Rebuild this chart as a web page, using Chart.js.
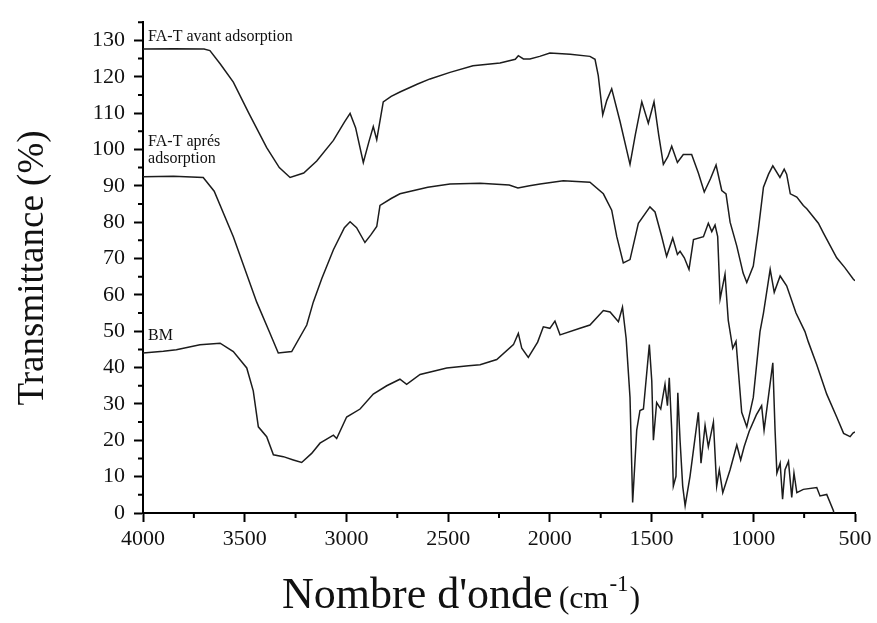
<!DOCTYPE html>
<html>
<head>
<meta charset="utf-8">
<script src="https://cdn.jsdelivr.net/npm/chart.js@4.4.0/dist/chart.umd.min.js"></script>
<style>
  html, body { margin: 0; padding: 0; background: #fff; }
  #irChart { display: block; }
</style>
</head>
<body>
<canvas id="irChart" width="877" height="623"></canvas>
<script>
// FTIR spectra - wavenumber (cm-1) vs transmittance (%)
const seriesNames = ['FA-T avant adsorption', 'FA-T aprés adsorption', 'BM'];

const wnAvant = [4000, 3850, 3700, 3671, 3620, 3556, 3480, 3392, 3330, 3277, 3210, 3146, 3064, 3010, 2982, 2955, 2917, 2890, 2868, 2851, 2819, 2780, 2737, 2650, 2589, 2491, 2378, 2245, 2170, 2155, 2130, 2098, 2050, 2000, 1900, 1803, 1778, 1762, 1740, 1720, 1696, 1655, 1606, 1580, 1548, 1516, 1488, 1465, 1442, 1420, 1401, 1373, 1344, 1303, 1270, 1241, 1210, 1183, 1155, 1134, 1114, 1081, 1050, 1032, 1000, 975, 950, 925, 904, 869, 848, 836, 818, 786, 754, 737, 680, 655, 590, 550, 508, 500];
const tAvant = [127.6, 127.7, 127.6, 127.2, 123.5, 118.5, 110, 100.5, 95, 92.3, 93.5, 96.8, 102.5, 107.5, 109.9, 106, 96.4, 102, 106.3, 102.7, 113.1, 114.6, 115.8, 118, 119.4, 121.2, 123, 123.8, 124.8, 125.8, 124.9, 124.9, 125.6, 126.5, 126.2, 125.6, 124.8, 120.3, 109.5, 113.5, 116.7, 107.7, 95.9, 104, 113.1, 107.2, 113.1, 104, 95.9, 98, 100.9, 96.4, 98.6, 98.6, 93.5, 88.3, 92, 95.7, 88.7, 87.8, 80, 73.4, 66, 63.4, 67.9, 78, 89.6, 93.2, 95.5, 92.3, 94.6, 93.2, 87.8, 86.9, 84.6, 83.7, 79.7, 77, 70.2, 67.5, 64.3, 63.9];

const wnApres = [4000, 3850, 3704, 3650, 3556, 3441, 3380, 3335, 3269, 3195, 3163, 3121, 3064, 3010, 2982, 2950, 2909, 2880, 2851, 2835, 2780, 2737, 2600, 2491, 2343, 2200, 2157, 2100, 2048, 1934, 1803, 1737, 1696, 1671, 1639, 1606, 1565, 1508, 1483, 1450, 1426, 1396, 1373, 1360, 1339, 1316, 1294, 1245, 1221, 1204, 1188, 1175, 1163, 1139, 1123, 1101, 1085, 1057, 1032, 1000, 967, 950, 917, 897, 868, 836, 790, 746, 729, 688, 639, 590, 556, 524, 510, 500];
const tApres = [92.5, 92.6, 92.3, 88.5, 76, 58, 50, 44, 44.4, 51.7, 58, 64.5, 72.4, 78.5, 80.1, 78.5, 74.4, 76.5, 78.8, 84.6, 86.5, 87.8, 89.6, 90.5, 90.7, 90.2, 89.4, 90, 90.5, 91.4, 91, 87.8, 83.3, 76, 68.8, 69.7, 79.7, 84.2, 82.8, 76, 70.6, 75.6, 71.1, 72, 70.2, 67, 75.2, 76, 79.7, 77.4, 79.2, 76, 58.9, 65.7, 53, 45.3, 47.2, 27.7, 23.7, 31.8, 49.9, 55, 67, 60.7, 65.2, 62.5, 55, 49.9, 47, 40.8, 32.7, 26.4, 21.9, 21, 22, 22.3];

const wnBM = [4000, 3900, 3836, 3720, 3621, 3556, 3490, 3458, 3433, 3392, 3359, 3310, 3261, 3220, 3171, 3130, 3064, 3048, 2999, 2933, 2868, 2802, 2737, 2704, 2638, 2507, 2400, 2343, 2261, 2179, 2155, 2138, 2106, 2060, 2032, 2000, 1975, 1950, 1852, 1803, 1737, 1704, 1663, 1643, 1625, 1606, 1593, 1573, 1557, 1540, 1511, 1499, 1491, 1475, 1455, 1434, 1422, 1413, 1401, 1393, 1380, 1371, 1360, 1347, 1335, 1311, 1270, 1257, 1237, 1221, 1196, 1180, 1167, 1150, 1114, 1081, 1062, 1045, 1020, 985, 959, 947, 904, 893, 884, 868, 856, 844, 827, 811, 800, 786, 754, 688, 672, 639, 606, 598];
const tBM = [44, 44.5, 44.9, 46.3, 46.7, 44.4, 39.9, 33.6, 23.7, 21, 16, 15.5, 14.6, 13.9, 16.4, 19.2, 21.4, 20.5, 26.4, 28.6, 32.7, 35, 36.8, 35.4, 38.1, 39.9, 40.5, 40.8, 42.2, 46.3, 49.4, 45.3, 42.8, 47, 51.2, 50.8, 52.8, 49, 50.8, 51.7, 55.7, 55.3, 52.6, 56.6, 48, 31.8, 2.9, 22.8, 28.2, 28.6, 46.3, 36.3, 20, 30.4, 28.6, 35.4, 29.5, 37.2, 22.8, 7.4, 10.1, 33.1, 20, 7.4, 2, 10.1, 27.7, 13.7, 24.1, 18.2, 25, 7.4, 11.9, 5.6, 11.9, 18.7, 14.6, 18.2, 22.5, 27, 29.5, 22.8, 41.3, 22.8, 11, 13.7, 3.8, 11.9, 14.2, 4.3, 11, 5.6, 6.5, 7, 4.7, 5.1, 0.6, -2];

// x ticks and y ticks
const xMajorTicks = [4000, 3500, 3000, 2500, 2000, 1500, 1000, 500];
const yMajorTicks = [0, 10, 20, 30, 40, 50, 60, 70, 80, 90, 100, 110, 120, 130];

// label anchors (wavenumber, transmittance) for the curve names
const labelLines = [
    { text: 'FA-T avant adsorption', x: 3975, y: 129.9 },
    { text: 'FA-T aprés', x: 3975, y: 100.9 },
    { text: 'adsorption', x: 3975, y: 96.3 },
    { text: 'BM', x: 3975, y: 47.5 }
];

function toPoints(xs, ys) {
    return xs.map((x, i) => ({ x: x, y: ys[i] }));
}

const lineColor = '#1c1c1c';
const serif = "'Liberation Serif', 'Times New Roman', serif";

const data = {
    datasets: [
        { label: seriesNames[0], data: toPoints(wnAvant, tAvant) },
        { label: seriesNames[1], data: toPoints(wnApres, tApres) },
        { label: seriesNames[2], data: toPoints(wnBM, tBM) }
    ].map(ds => Object.assign(ds, {
        borderColor: lineColor,
        borderWidth: 1.5,
        pointRadius: 0,
        tension: 0,
        fill: false
    }))
};

// minor ticks, curve names and axis titles
const decorations = {
    id: 'decorations',
    afterDraw(chart) {
        const ctx = chart.ctx;
        const xs = chart.scales.x;
        const ys = chart.scales.y;
        const area = chart.chartArea;
        ctx.save();
        ctx.strokeStyle = '#000';
        ctx.lineWidth = 2;
        ctx.beginPath();
        for (let v = 750; v < 4000; v += 500) {
            const px = xs.getPixelForValue(v);
            ctx.moveTo(px, area.bottom);
            ctx.lineTo(px, area.bottom + 5);
        }
        for (let v = 5; v <= 135; v += 10) {
            const py = ys.getPixelForValue(v);
            ctx.moveTo(area.left, py);
            ctx.lineTo(area.left - 5, py);
        }
        ctx.stroke();

        ctx.fillStyle = '#111';
        ctx.font = '16px ' + serif;
        ctx.textAlign = 'left';
        ctx.textBaseline = 'alphabetic';
        labelLines.forEach(l => {
            ctx.fillText(l.text, xs.getPixelForValue(l.x), ys.getPixelForValue(l.y));
        });

        // y title
        ctx.save();
        ctx.translate(43, 268);
        ctx.rotate(-Math.PI / 2);
        ctx.textAlign = 'center';
        ctx.font = '37px ' + serif;
        ctx.fillText('Transmittance (%)', 0, 0);
        ctx.restore();

        // x title with superscript
        let x = 282;
        const base = 608;
        ctx.font = '44px ' + serif;
        ctx.fillText("Nombre d'onde", x, base);
        x += ctx.measureText("Nombre d'onde").width + 6;
        ctx.font = '32px ' + serif;
        ctx.fillText('(cm', x, base);
        x += ctx.measureText('(cm').width + 1;
        ctx.font = '23px ' + serif;
        ctx.fillText('-1', x, base - 17);
        x += ctx.measureText('-1').width + 1;
        ctx.font = '32px ' + serif;
        ctx.fillText(')', x, base);
        ctx.restore();
    }
};

const config = {
    type: 'line',
    data: data,
    options: {
        responsive: false,
        animation: false,
        layout: { padding: { top: 15, right: 22, left: 0, bottom: 0 } },
        plugins: {
            legend: { display: false },
            tooltip: { enabled: false }
        },
        scales: {
            x: {
                type: 'linear',
                reverse: true,
                min: 500,
                max: 4000,
                afterFit(scale) { scale.height = 110; },
                afterBuildTicks(scale) {
                    scale.ticks = xMajorTicks.map(v => ({ value: v }));
                },
                ticks: {
                    color: '#111',
                    font: { family: serif, size: 22 },
                    padding: 4,
                    maxRotation: 0,
                    autoSkip: false,
                    callback: v => String(v)
                },
                grid: { drawOnChartArea: false, tickLength: 9, tickColor: '#000', tickWidth: 2 },
                border: { color: '#000', width: 2 }
            },
            y: {
                min: 0,
                max: 135,
                afterFit(scale) { scale.width = 143; },
                afterBuildTicks(scale) {
                    scale.ticks = yMajorTicks.map(v => ({ value: v }));
                },
                ticks: {
                    color: '#111',
                    font: { family: serif, size: 22 },
                    padding: 9,
                    autoSkip: false,
                    callback: v => String(v)
                },
                grid: { drawOnChartArea: false, tickLength: 9, tickColor: '#000', tickWidth: 2 },
                border: { color: '#000', width: 2 }
            }
        }
    },
    plugins: [decorations]
};

const irChart = new Chart(document.getElementById('irChart'), config);
</script>
</body>
</html>
